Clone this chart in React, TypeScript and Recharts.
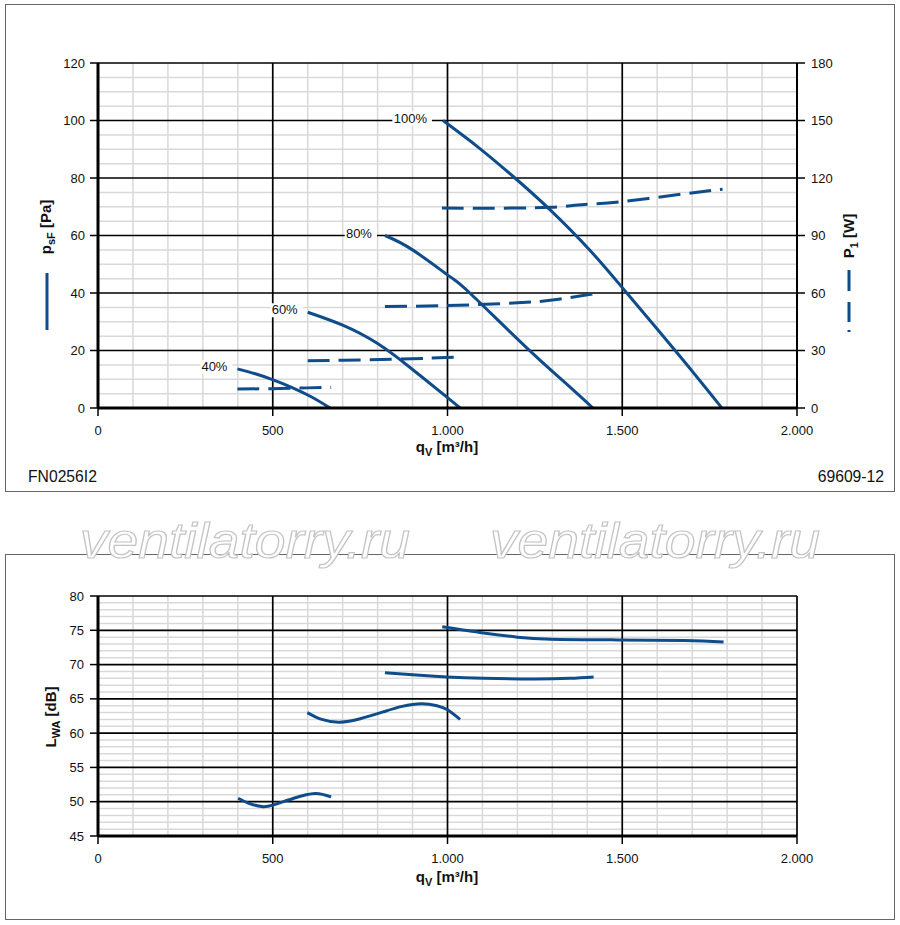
import React from 'react';
import { ComposedChart, Line, XAxis, YAxis, ReferenceLine } from 'recharts';

const BLUE = '#0f4c8a';
const FONT = '"Liberation Sans", Arial, Helvetica, sans-serif';

// x axis (q_V, m³/h)
const qMajor = [0, 500, 1000, 1500, 2000];
const qMinor = [100, 200, 300, 400, 600, 700, 800, 900, 1100, 1200, 1300, 1400, 1600, 1700, 1800, 1900];

// left axis p_sF [Pa], right axis P1 [W]
const psfTicks = [0, 20, 40, 60, 80, 100, 120];
const psfMinor = [5, 10, 15, 25, 30, 35, 45, 50, 55, 65, 70, 75, 85, 90, 95, 105, 110, 115];
const p1Ticks = [0, 30, 60, 90, 120, 150, 180];

// sound power L_WA [dB]
const lwaTicks = [45, 50, 55, 60, 65, 70, 75, 80];
const lwaMinor = [46, 47, 48, 49, 51, 52, 53, 54, 56, 57, 58, 59, 61, 62, 63, 64, 66, 67, 68, 69, 71, 72, 73, 74, 76, 77, 78, 79];

// static pressure curves
const psf100 = [{ q: 987, p: 100 }, { q: 1090, p: 90.5 }, { q: 1193, p: 80 }, { q: 1293, p: 69 }, { q: 1408, p: 54.8 }, { q: 1513, p: 40 }, { q: 1665, p: 18 }, { q: 1785, p: 0 }];
const psf80 = [{ q: 821, p: 60 }, { q: 900, p: 55 }, { q: 1007, p: 45.7 }, { q: 1064, p: 40 }, { q: 1226, p: 21 }, { q: 1330, p: 9.5 }, { q: 1416, p: 0 }];
const psf60 = [{ q: 600, p: 33.3 }, { q: 700, p: 28.8 }, { q: 800, p: 22.4 }, { q: 900, p: 13.4 }, { q: 1000, p: 3.6 }, { q: 1036, p: 0 }];
const psf40 = [{ q: 399, p: 13.6 }, { q: 450, p: 11.9 }, { q: 501, p: 9.8 }, { q: 554, p: 7.2 }, { q: 610, p: 3.9 }, { q: 664, p: 0 }];

// input power curves
const p1_100 = [{ q: 984, w: 104.3 }, { q: 1103, w: 104.2 }, { q: 1293, w: 104.7 }, { q: 1373, w: 105.9 }, { q: 1494, w: 107.6 }, { q: 1675, w: 111.7 }, { q: 1787, w: 114.1 }];
const p1_80 = [{ q: 821, w: 52.9 }, { q: 1031, w: 53.6 }, { q: 1200, w: 54.9 }, { q: 1300, w: 56.3 }, { q: 1416, w: 59.5 }];
const p1_60 = [{ q: 600, w: 24.7 }, { q: 700, w: 24.9 }, { q: 840, w: 25.4 }, { q: 950, w: 26.0 }, { q: 1036, w: 26.6 }];
const p1_40 = [{ q: 399, w: 9.9 }, { q: 500, w: 10.1 }, { q: 600, w: 10.5 }, { q: 667, w: 10.7 }];

// sound curves
const lwa100 = [{ q: 985, l: 75.5 }, { q: 1103, l: 74.6 }, { q: 1200, l: 74.0 }, { q: 1296, l: 73.7 }, { q: 1487, l: 73.6 }, { q: 1678, l: 73.5 }, { q: 1790, l: 73.3 }];
const lwa80 = [{ q: 821, l: 68.8 }, { q: 900, l: 68.5 }, { q: 998, l: 68.2 }, { q: 1103, l: 68.0 }, { q: 1246, l: 67.9 }, { q: 1350, l: 68.0 }, { q: 1418, l: 68.2 }];
const lwa60 = [{ q: 599, l: 63 }, { q: 640, l: 62 }, { q: 692, l: 61.6 }, { q: 750, l: 62.1 }, { q: 816, l: 63.1 }, { q: 870, l: 63.9 }, { q: 926, l: 64.3 }, { q: 970, l: 64.0 }, { q: 1000, l: 63.4 }, { q: 1036, l: 62.0 }];
const lwa40 = [{ q: 401, l: 50.5 }, { q: 430, l: 49.8 }, { q: 468, l: 49.3 }, { q: 500, l: 49.5 }, { q: 560, l: 50.5 }, { q: 621, l: 51.2 }, { q: 667, l: 50.7 }];

const fmtQ = (v: number) => (v >= 1000 ? `${Math.floor(v / 1000)}.${String(v % 1000).padStart(3, '0')}` : String(v));
const tick = { fontSize: 13, fill: '#111', fontFamily: FONT };
const MINOR = { stroke: '#d9d9d9', strokeWidth: 1.5 };
const MAJOR = { stroke: '#000', strokeWidth: 1.7 };

// speed label drawn at the first point of a pressure curve
const speedLabel = (text: string, gap: number) => (props: any) => {
    const { cx, cy, index } = props;
    if (index !== 0) return <g key={`d-${index}`} />;
    const w = text.length * 7.4 + 4;
    return (
        <g key="lbl">
            <rect x={cx - gap - w - 1} y={cy - 9} width={w + 6} height={14} fill="#fff" />
            <text x={cx - gap} y={cy + 2} textAnchor="end" fontSize={13} fill="#111" fontFamily={FONT}>{text}</text>
        </g>
    );
};

function Grid(ys: number[], yMajor: number[]) {
    return [
        ...qMinor.map((v) => <ReferenceLine key={`xm${v}`} x={v} {...MINOR} />),
        ...ys.map((v) => <ReferenceLine key={`ym${v}`} y={v} {...MINOR} />),
        ...qMajor.map((v) => <ReferenceLine key={`xM${v}`} x={v} {...MAJOR} />),
        ...yMajor.map((v) => <ReferenceLine key={`yM${v}`} y={v} {...MAJOR} />),
    ];
}

function Sub({ x, y, main, sub, rest, rotate }: { x: number; y: number; main: string; sub: string; rest: string; rotate?: boolean }) {
    return (
        <text x={x} y={y} textAnchor="middle" fontSize={15} fontWeight="bold" fill="#111" fontFamily={FONT}
            transform={rotate ? `rotate(-90 ${x} ${y})` : undefined}>
            {main}
            <tspan fontSize={11} dy={4}>{sub}</tspan>
            <tspan dy={-4}>{rest}</tspan>
        </text>
    );
}

export default function App() {
    const solid = { type: 'natural' as const, stroke: BLUE, strokeWidth: 3, isAnimationActive: false };
    const dashed = { ...solid, strokeDasharray: '22 9', dot: false, yAxisId: 'right' };
    const axisLine = { stroke: '#000', strokeWidth: 3 };
    const tickLine = { stroke: '#000', strokeWidth: 1.5 };

    return (
        <div style={{ position: 'absolute', left: 0, top: 0, width: 900, height: 925, background: '#fff', fontFamily: FONT }}>
            <div style={{ position: 'absolute', left: 5, top: 4, width: 890, height: 488, border: '1px solid #666', boxSizing: 'border-box' }} />
            <div style={{ position: 'absolute', left: 5, top: 554, width: 890, height: 366, border: '1px solid #666', boxSizing: 'border-box' }} />

            <div style={{ position: 'absolute', left: 0, top: 0 }}>
                <ComposedChart width={900} height={500} margin={{ top: 63, right: 43, bottom: 62, left: 38 }}>
                    <XAxis type="number" dataKey="q" domain={[0, 2000]} ticks={qMajor} tickFormatter={fmtQ} allowDataOverflow
                        height={30} tickSize={8} tickMargin={10} tick={tick} axisLine={axisLine} tickLine={tickLine} />
                    <YAxis type="number" domain={[0, 120]} ticks={psfTicks} width={60} tickSize={8} tickMargin={5} tick={tick}
                        axisLine={axisLine} tickLine={tickLine} />
                    <YAxis yAxisId="right" orientation="right" type="number" domain={[0, 180]} ticks={p1Ticks} width={60} tickSize={8} tickMargin={6} tick={tick}
                        axisLine={{ stroke: '#000', strokeWidth: 2 }} tickLine={tickLine} />
                    {Grid(psfMinor, psfTicks)}
                    <Line {...dashed} data={p1_100} dataKey="w" />
                    <Line {...dashed} data={p1_80} dataKey="w" />
                    <Line {...dashed} data={p1_60} dataKey="w" />
                    <Line {...dashed} data={p1_40} dataKey="w" />
                    <Line {...solid} data={psf100} dataKey="p" dot={speedLabel('100%', 16)} />
                    <Line {...solid} data={psf80} dataKey="p" dot={speedLabel('80%', 13)} />
                    <Line {...solid} data={psf60} dataKey="p" dot={speedLabel('60%', 10)} />
                    <Line {...solid} data={psf40} dataKey="p" dot={speedLabel('40%', 10)} />
                </ComposedChart>
            </div>

            <div style={{ position: 'absolute', left: 0, top: 500 }}>
                <ComposedChart width={900} height={425} margin={{ top: 96, right: 103, bottom: 59, left: 38 }}>
                    <XAxis type="number" dataKey="q" domain={[0, 2000]} ticks={qMajor} tickFormatter={fmtQ} allowDataOverflow
                        height={30} tickSize={8} tickMargin={10} tick={tick} axisLine={axisLine} tickLine={tickLine} />
                    <YAxis type="number" domain={[45, 80]} ticks={lwaTicks} width={60} tickSize={8} tickMargin={6} tick={tick}
                        axisLine={axisLine} tickLine={tickLine} />
                    {Grid(lwaMinor, lwaTicks)}
                    <Line {...solid} data={lwa100} dataKey="l" dot={false} />
                    <Line {...solid} data={lwa80} dataKey="l" dot={false} />
                    <Line {...solid} data={lwa60} dataKey="l" dot={false} />
                    <Line {...solid} data={lwa40} dataKey="l" dot={false} />
                </ComposedChart>
            </div>

            {/* axis titles, legend keys, captions, watermark */}
            <svg style={{ position: 'absolute', left: 0, top: 0 }} width={900} height={925}>
                <Sub x={51} y={227} main="p" sub="sF" rest=" [Pa]" rotate />
                <line x1={47} y1={273} x2={47} y2={330} stroke={BLUE} strokeWidth={3} />
                <Sub x={854} y={236} main="P" sub="1" rest=" [W]" rotate />
                <line x1={849} y1={270} x2={849} y2={332} stroke={BLUE} strokeWidth={3} strokeDasharray="21 11 20 8 2 40" />
                <Sub x={447} y={452} main="q" sub="V" rest=" [m³/h]" />
                <text x={28} y={482} fontSize={15.7} fill="#111" fontFamily={FONT}>FN0256I2</text>
                <text x={884} y={482} textAnchor="end" fontSize={15.7} fill="#111" fontFamily={FONT}>69609-12</text>

                <Sub x={56} y={717} main="L" sub="WA" rest=" [dB]" rotate />
                <Sub x={447} y={882} main="q" sub="V" rest=" [m³/h]" />

                <text x={80} y={558} fontSize={50} fontStyle="italic" fontFamily={FONT} fill="#fff" stroke="#c4c4c4" strokeWidth={1.2} textLength={330} lengthAdjust="spacingAndGlyphs">ventilatorry.ru</text>
                <text x={490} y={558} fontSize={50} fontStyle="italic" fontFamily={FONT} fill="#fff" stroke="#c4c4c4" strokeWidth={1.2} textLength={330} lengthAdjust="spacingAndGlyphs">ventilatorry.ru</text>
            </svg>
        </div>
    );
}
